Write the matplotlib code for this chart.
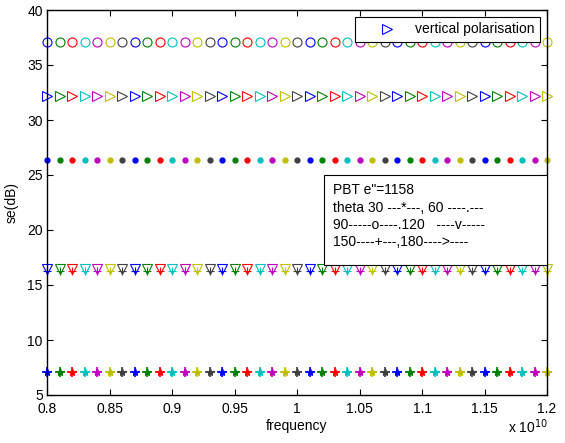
import matplotlib
matplotlib.use('Agg')
import matplotlib.pyplot as plt
from matplotlib.lines import Line2D
from matplotlib.patches import Rectangle

plt.rcParams['font.family'] = ['Liberation Sans', 'DejaVu Sans']
plt.rcParams['font.size'] = 10

# frequency in units of 1e10 Hz
freq = [0.80, 0.81, 0.82, 0.83, 0.84, 0.85, 0.86, 0.87, 0.88, 0.89,
        0.90, 0.91, 0.92, 0.93, 0.94, 0.95, 0.96, 0.97, 0.98, 0.99,
        1.00, 1.01, 1.02, 1.03, 1.04, 1.05, 1.06, 1.07, 1.08, 1.09,
        1.10, 1.11, 1.12, 1.13, 1.14, 1.15, 1.16, 1.17, 1.18, 1.19, 1.20]

# shielding effectiveness (dB) per angle, flat over frequency
se_30 = 7.05
se_60 = 26.4
se_90 = 37.05
se_120 = 16.5
se_150 = 7.05
se_180 = 32.2
se_extra = 16.3   # cross marks sitting inside the down triangles

# old matlab color order
colors = [(0, 0, 1), (0, 0.5, 0), (1, 0, 0), (0, 0.75, 0.75),
          (0.75, 0, 0.75), (0.75, 0.75, 0), (0.25, 0.25, 0.25)]

fig = plt.figure(figsize=(5.65, 4.43), dpi=100)
ax = fig.add_axes([47/565, 1-395/443, 500/565, 385/443])

for i, f in enumerate(freq):
    c = colors[i % len(colors)]
    x = f * 1e10
    ax.plot(x, se_30, marker='*', color=c, ms=6, mew=0.8, ls='none', clip_on=False)
    ax.plot(x, se_150, marker='+', color=c, ms=7, mew=1.2, ls='none', clip_on=False)
    ax.plot(x, se_extra, marker='+', color=c, ms=6, mew=0.8, ls='none', clip_on=False)
    ax.plot(x, se_120, marker='v', color=c, ms=6.5, mew=0.8, mfc='none', ls='none', clip_on=False)
    ax.plot(x, se_60, marker='o', color=c, ms=3.5, ls='none', clip_on=False)
    ax.plot(x, se_180, marker='>', color=c, ms=6.5, mew=0.8, mfc='none', ls='none', clip_on=False)
    ax.plot(x, se_90, marker='o', color=c, ms=6.5, mew=0.8, mfc='none', ls='none', clip_on=False)

ax.set_xlim(0.8e10, 1.2e10)
ax.set_ylim(5, 40)
ax.set_xticks([0.8e10, 0.85e10, 0.9e10, 0.95e10, 1.0e10, 1.05e10, 1.1e10, 1.15e10, 1.2e10])
ax.set_xticklabels(['0.8', '0.85', '0.9', '0.95', '1', '1.05', '1.1', '1.15', '1.2'])
ax.set_yticks([5, 10, 15, 20, 25, 30, 35, 40])
ax.tick_params(direction='in', top=True, right=True, length=4, labelsize=10)
ax.tick_params(axis='x', pad=5)
ax.tick_params(axis='y', pad=3)
for s in ax.spines.values():
    s.set_linewidth(1.0)

ax.set_xlabel('frequency', labelpad=2)
ax.set_ylabel('se(dB)', labelpad=6)
fig.text(0.97, 0.015, r'x 10$^{10}$', ha='right', va='bottom', fontsize=10)

h = Line2D([], [], marker='>', color=(0, 0, 1), mfc='none', ms=6.5, mew=0.8, ls='none')
leg = ax.legend([h], ['vertical polarisation'], loc='upper right', fancybox=False,
                edgecolor='black', framealpha=1, borderaxespad=0.5, handlelength=3.8,
                handletextpad=0.1, borderpad=0.4, fontsize=10)
leg.get_frame().set_linewidth(0.8)

# annotation box reaching to the right edge of the axes
x0 = (324 - 47) / 500
y0 = (395 - 265) / 385
y1 = (395 - 175) / 385
ax.add_patch(Rectangle((x0, y0), 1 - x0, y1 - y0, transform=ax.transAxes,
                       fc='white', ec='black', lw=0.8, zorder=5))
txt = ('PBT e"=1158\n'
       'theta 30 ---*---, 60 ----.---\n'
       '90-----o----.120   ----v-----\n'
       '150----+---,180---->----')
ax.text(x0 + 0.017, y1 - 0.022, txt, transform=ax.transAxes, va='top', ha='left',
        fontsize=10, linespacing=1.3, zorder=6)

fig.savefig('out.png', dpi=100)
